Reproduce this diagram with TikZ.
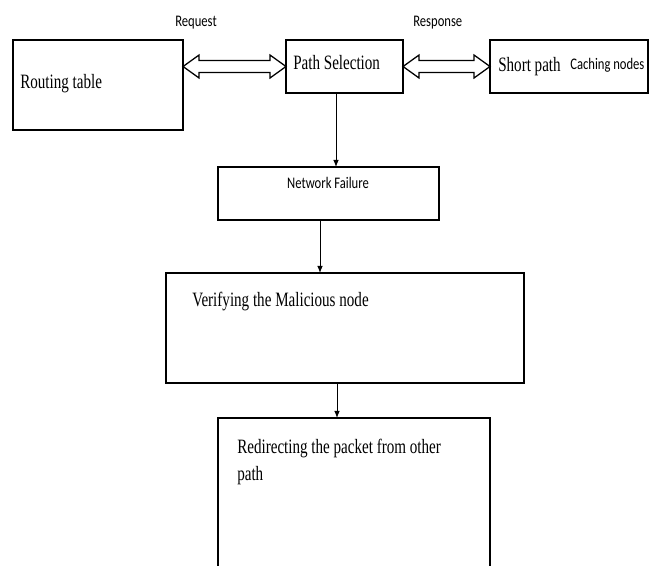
\documentclass[tikz,border=0pt]{standalone}
\usepackage{fontspec}
\usetikzlibrary{arrows.meta,calc}
\newfontfamily\boxfont[FakeStretch=0.74]{Liberation Serif}
\newfontfamily\tagfont[FakeStretch=0.78]{Carlito}
\begin{document}
\begin{tikzpicture}[x=0.025cm, y=-0.025cm,
		block/.style={rectangle, draw, line width=1.1pt, inner sep=0pt, outer sep=0pt, anchor=north west},
		txt/.style={inner sep=0pt, anchor=base west, font=\boxfont\fontsize{14.5pt}{19pt}\selectfont},
		tag/.style={inner sep=0pt, anchor=base west, font=\tagfont\fontsize{11.5pt}{14pt}\selectfont},
		arr/.style={-{Latex[length=5pt,width=4pt]}, line width=0.7pt}]
		\useasboundingbox (0,0) rectangle (649,565);
		% boxes
		\node[block, minimum width=4.25cm, minimum height=2.25cm] (rt) at (13,40) {};
		\node[block, minimum width=2.925cm, minimum height=1.325cm] (ps) at (286,40) {};
		\node[block, minimum width=3.95cm, minimum height=1.325cm] (sp) at (490,40) {};
		\node[block, minimum width=5.525cm, minimum height=1.325cm] (nf) at (218,167) {};
		\node[block, minimum width=8.95cm, minimum height=2.75cm] (vm) at (166,273) {};
		\node[block, minimum width=6.8cm, minimum height=3.75cm] (rd) at (218,418) {};
		% texts
		\node[txt] (rt-t) at (20,89) {Routing table};
		\node[txt] (ps-t) at (293,69) {Path Selection};
		\node[txt] (sp-t) at (498,71) {Short path};
		\node[tag] (sp-c) at (570,69) {Caching nodes};
		\node[tag] (req) at (175,27) {Request};
		\node[tag] (resp) at (413,27) {Response};
		\node[tag, anchor=base] (nf-t) at (328,188) {Network Failure};
		\node[txt] (vm-t) at (192,306) {Verifying the Malicious node};
		\node[txt, align=left, anchor=north west] (rd-t) at (237,439) {Redirecting the packet from other\\path};
		% two-way arrows
		\draw[line width=0.9pt] (rt.east |- ps.west) -- ++(16,-11.5) -- ++(0,5.5) -- ($(ps.west)+(-16,-6)$) -- ++(0,-5.5) -- (ps.west) -- ++(-16,11.5) -- ++(0,-5.5) -- ($(rt.east |- ps.west)+(16,6)$) -- ++(0,5.5) -- cycle;
		\draw[line width=0.9pt] (ps.east) -- ++(16,-11.5) -- ++(0,5.5) -- ($(sp.west)+(-16,-6)$) -- ++(0,-5.5) -- (sp.west) -- ++(-16,11.5) -- ++(0,-5.5) -- ($(ps.east)+(16,6)$) -- ++(0,5.5) -- cycle;
		% down arrows
		\coordinate (c1) at (336,0);
		\coordinate (c2) at (320,0);
		\coordinate (c3) at (337,0);
		\draw[arr] (ps.south -| c1) -- (nf.north -| c1);
		\draw[arr] (nf.south -| c2) -- (vm.north -| c2);
		\draw[arr] (vm.south -| c3) -- (rd.north -| c3);
	\end{tikzpicture}
\end{document}
